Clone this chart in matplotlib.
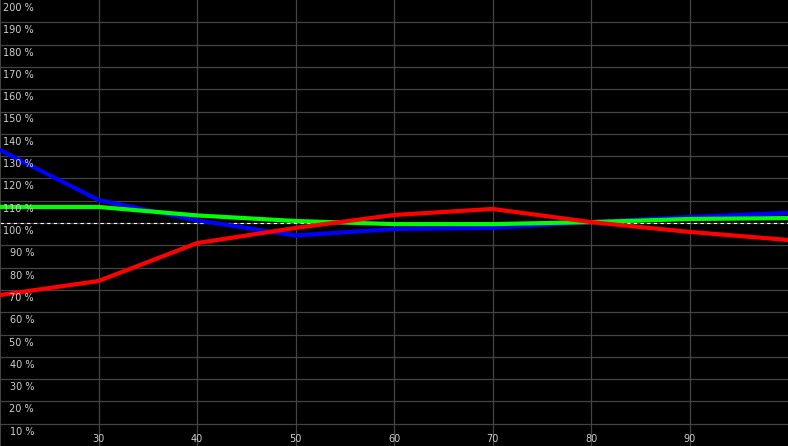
import matplotlib
matplotlib.use("Agg")
import matplotlib.pyplot as plt
import matplotlib.transforms as mtransforms

# sample positions and series values (%)
x_vals = [20, 30, 40, 50, 60, 70, 80, 90, 100]
blue_vals = [132.7, 110.3, 101.2, 94.4, 97.3, 97.8, 100.4, 102.7, 104.5]
green_vals = [107.2, 107.2, 103.4, 100.9, 99.5, 99.5, 100.4, 101.8, 102.2]
red_vals = [67.7, 74.0, 91.0, 97.8, 103.6, 106.3, 100.4, 96.0, 92.4]

y_ticks = list(range(10, 201, 10))
y_labels = [f"{v} %" for v in y_ticks]
x_ticks = [30, 40, 50, 60, 70, 80, 90]
x_labels = [str(v) for v in x_ticks]

grid_col = "#444444"
text_col = "#d0d0d0"

fig = plt.figure(figsize=(7.88, 4.46), dpi=100, facecolor="black")
ax = fig.add_axes([0, 0, 1, 1], facecolor="black")
ax.set_xlim(20, 100)
ax.set_ylim(0, 200)

for v in y_ticks[:-1]:
    ax.axhline(v, color=grid_col, lw=0.9, zorder=1)
for v in x_ticks:
    ax.axvline(v, color=grid_col, lw=0.9, zorder=1)

ax.axhline(100, color="white", lw=0.8, ls=(0, (3, 3)), zorder=2)

ax.plot(x_vals, blue_vals, color="#0000ff", lw=3.0, zorder=3)
ax.plot(x_vals, green_vals, color="#00ff00", lw=3.0, zorder=4)
ax.plot(x_vals, red_vals, color="#ff0000", lw=3.0, zorder=5)

# y labels sit just below their grid line, right aligned near left edge
trans_y = mtransforms.blended_transform_factory(ax.transAxes, ax.transData)
offs = mtransforms.offset_copy(trans_y, fig=fig, x=0, y=-3, units="dots")
for v, lab in zip(y_ticks, y_labels):
    ax.text(34 / 788, v, lab, transform=offs, ha="right", va="top",
            color=text_col, fontsize=7, zorder=6)

trans_x = mtransforms.blended_transform_factory(ax.transData, ax.transAxes)
offx = mtransforms.offset_copy(trans_x, fig=fig, x=0, y=2, units="dots")
for v, lab in zip(x_ticks, x_labels):
    ax.text(v, 0, lab, transform=offx, ha="center", va="bottom",
            color=text_col, fontsize=7, zorder=6)

ax.set_xticks([])
ax.set_yticks([])
for side in ["top", "right", "bottom"]:
    ax.spines[side].set_visible(False)
ax.spines["left"].set_color(grid_col)
ax.spines["left"].set_linewidth(1.5)

fig.savefig("out.png", dpi=100, facecolor="black")
